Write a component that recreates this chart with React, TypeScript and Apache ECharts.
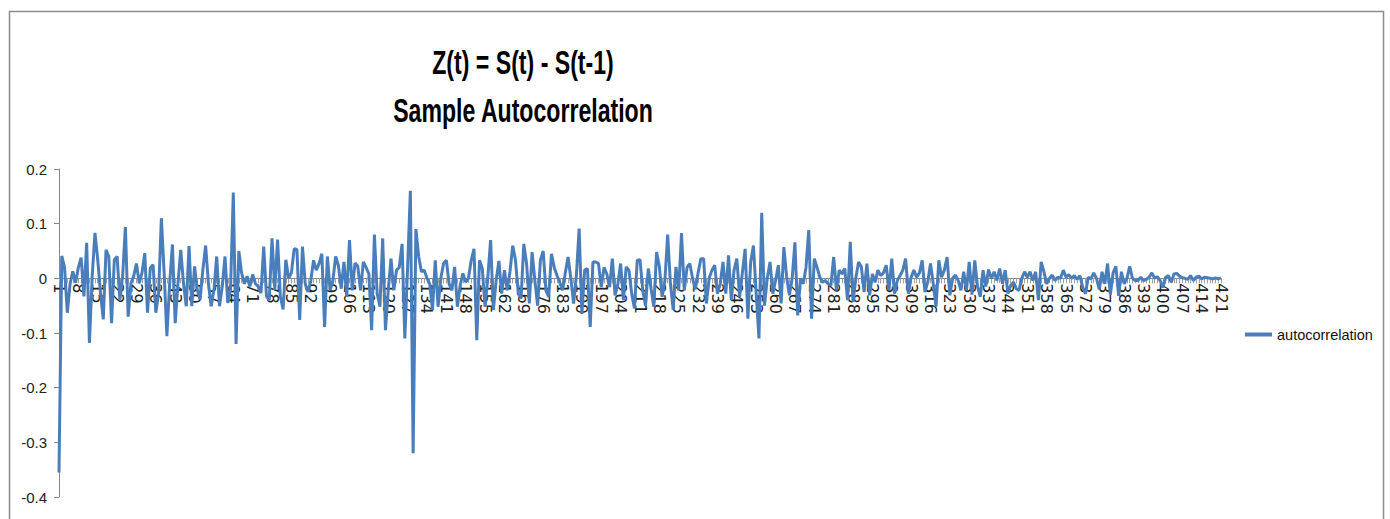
import { useEffect, useRef } from "react";
import * as echarts from "echarts";

// Sample autocorrelation of the differenced series, by lag (1..421)
const acfLag001to064 = [
  -0.355, 0.041, 0.02, -0.063, -0.01, 0.013, -0.008, 0.02, 0.038, -0.033,
  0.065, -0.118, 0.004, 0.083, 0.034, -0.027, -0.075, 0.052, 0.04, -0.082,
  0.034, 0.04, -0.039, 0.004, 0.094, -0.07, -0.009, 0.004, 0.027, -0.009,
  0.01, 0.046, -0.063, 0.019, 0.025, -0.063, -0.027, 0.11, 0.01, -0.106,
  -0.009, 0.062, -0.082, -0.009, 0.052, -0.009, -0.051, 0.059, -0.051, 0.022,
  -0.021, -0.039, 0.016, 0.06, -0.009, -0.051, -0.021, 0.04, -0.051, -0.015,
  0.04, -0.045, -0.021, 0.157,
];
const acfLag065to083 = [
  -0.12, 0.05, 0.01, -0.01, 0.004, -0.015, 0.007, -0.01, -0.015, -0.027,
  0.058, -0.033, -0.04, 0.073, -0.021, 0.071, -0.033, -0.057, 0.034,
];
const acfLag084to131 = [
  0.0, 0.01, 0.054, 0.053, -0.076, 0.058, -0.01, -0.025, -0.005, 0.033,
  0.015, 0.027, 0.045, -0.089, 0.04, -0.022, -0.004, 0.04, 0.023, -0.019,
  0.03, -0.034, 0.07, -0.022, 0.028, 0.022, -0.022, 0.03, 0.02, 0.008,
  -0.095, 0.08, -0.028, -0.052, 0.073, -0.095, -0.022, 0.036, -0.022, 0.015,
  0.02, 0.063, -0.11, 0.02, 0.16, -0.32, 0.09, 0.04,
];
const acfLag132to180 = [
  0.012, 0.015, 0.0, -0.01, -0.058, 0.033, -0.052, 0.0, 0.027, 0.033,
  -0.01, -0.022, 0.021, -0.052, -0.013, 0.009, -0.007, 0.0, 0.033, 0.054,
  -0.113, 0.033, 0.018, -0.052, 0.002, 0.07, -0.058, -0.004, 0.032, -0.028,
  0.015, -0.022, 0.012, 0.06, 0.033, -0.028, -0.037, 0.063, 0.027, -0.046,
  0.048, -0.004, -0.05, 0.033, 0.05, -0.022, -0.034, 0.045, 0.02,
];
const acfLag181to229 = [
  0.005, -0.007, -0.022, 0.01, 0.039, 0.0, -0.046, 0.005, 0.091, -0.065,
  0.015, 0.018, -0.089, 0.03, 0.03, 0.027, -0.016, 0.02, 0.008, -0.016,
  0.036, -0.031, -0.01, 0.027, -0.04, 0.021, 0.015, -0.028, -0.055, 0.033,
  0.034, -0.022, -0.05, 0.018, -0.019, -0.052, 0.048, 0.021, -0.034, -0.004,
  0.08, -0.01, -0.058, 0.021, -0.022, 0.083, -0.022, 0.02, 0.027,
];
const acfLag230to277 = [
  0.0, -0.02, 0.01, 0.036, 0.036, -0.046, 0.0, 0.015, 0.024, -0.028,
  -0.01, 0.03, -0.028, 0.042, -0.04, 0.015, 0.036, -0.034, 0.01, 0.054,
  -0.074, 0.03, 0.06, -0.028, -0.11, 0.12, -0.05, 0.0, 0.03, -0.028,
  -0.004, 0.024, -0.046, 0.057, 0.003, -0.031, 0.0, 0.066, -0.068, 0.0,
  -0.01, 0.02, 0.088, -0.074, 0.036, 0.02, 0.002, -0.007,
];
const acfLag278to326 = [
  -0.004, -0.01, -0.013, 0.039, -0.022, 0.015, 0.008, 0.018, -0.04, 0.067,
  -0.043, 0.0, 0.03, 0.021, -0.025, 0.027, -0.031, 0.008, -0.007, 0.015,
  0.005, 0.01, 0.024, -0.022, 0.036, -0.028, -0.004, 0.005, 0.015, 0.036,
  -0.028, 0.002, 0.015, 0.002, 0.01, 0.033, -0.025, -0.007, 0.027, -0.01,
  -0.052, 0.033, 0.002, 0.015, 0.039, -0.031, 0.0, 0.006, -0.004,
];
const acfLag327to374 = [
  -0.022, 0.012, -0.022, 0.03, -0.03, 0.033, -0.015, -0.034, 0.015, -0.015,
  0.016, 0.0, 0.012, -0.004, 0.018, -0.01, 0.015, -0.028, -0.013, -0.007,
  -0.019, -0.022, 0.0, 0.012, 0.002, 0.012, -0.004, 0.012, -0.04, 0.03,
  0.012, -0.01, 0.0, 0.006, -0.004, 0.002, 0.0, 0.015, 0.002, 0.007,
  0.0, 0.005, -0.002, 0.005, -0.016, -0.028, 0.002, -0.001,
];
const acfLag375to421 = [
  0.01, 0.0, -0.02, 0.012, -0.01, 0.027, -0.03, 0.01, 0.022, -0.032,
  0.012, -0.01, 0.0, 0.022, 0.0, -0.004, -0.004, 0.002, -0.004, -0.002,
  0.002, 0.01, 0.0, 0.003, -0.004, -0.017, 0.002, 0.005, -0.007, 0.008,
  0.009, 0.004, 0.001, 0.0, -0.002, 0.005, -0.004, 0.002, 0.004, -0.001,
  0.002, 0.001, 0.0, -0.001, 0.001, -0.001, 0.001,
];

const autocorrelation = [
  ...acfLag001to064,
  ...acfLag065to083,
  ...acfLag084to131,
  ...acfLag132to180,
  ...acfLag181to229,
  ...acfLag230to277,
  ...acfLag278to326,
  ...acfLag327to374,
  ...acfLag375to421,
];

// Category labels are the lag numbers 1..N
const lags = autocorrelation.map((_, i) => String(i + 1));

const yMin = -0.4;
const yMax = 0.2;
const yStep = 0.1;

const titleLines = ["Z(t) = S(t) - S(t-1)", "Sample Autocorrelation"];
const seriesName = "autocorrelation";

const SANS = "'Liberation Sans', Arial, sans-serif";
const LINE_BLUE = "#4a7ebb";
const AXIS_GREY = "#868686";

// Plot area in pixels
const GRID = { left: 59, right: 169, top: 169, bottom: 22 };
const CHART_H = 519;

export default function App() {
  const ref = useRef<HTMLDivElement>(null);

  useEffect(() => {
    if (!ref.current) return;
    const chart = echarts.init(ref.current, null, { renderer: "svg" });

    // Category axis sits on the value-axis zero line, labels included
    const plotH = CHART_H - GRID.top - GRID.bottom;
    const zeroFromBottom = (plotH * (0 - yMin)) / (yMax - yMin);

    const titleText = (text: string, y: number) => ({
      type: "text",
      x: 523,
      y,
      scaleX: 0.7,
      style: {
        text,
        fontFamily: SANS,
        fontWeight: "bold",
        fontSize: 33,
        fill: "#000",
        align: "center",
        verticalAlign: "middle",
      },
    });

    chart.setOption({
      animation: false,
      backgroundColor: "#ffffff",
      graphic: [
        {
          type: "rect",
          silent: true,
          z: -10,
          shape: { x: 9.5, y: 11.5, width: 1374, height: 530 },
          style: { fill: "none", stroke: "#8c8c8c", lineWidth: 1.5 },
        },
        titleText(titleLines[0], 62),
        titleText(titleLines[1], 110),
      ],
      grid: { ...GRID, containLabel: false, outerBoundsMode: "none" },
      legend: {
        data: [seriesName],
        left: 1245,
        top: 327,
        padding: 0,
        icon: "rect",
        itemWidth: 27,
        itemHeight: 4,
        textStyle: { fontFamily: SANS, fontSize: 14.5, color: "#111" },
      },
      xAxis: {
        type: "category",
        data: lags,
        boundaryGap: false,
        position: "bottom",
        offset: -zeroFromBottom,
        axisLine: { onZero: false, lineStyle: { color: AXIS_GREY, width: 1 } },
        axisTick: {
          show: true,
          interval: 0,
          length: 5,
          lineStyle: { color: "#a0a0a0", width: 1 },
        },
        axisLabel: {
          interval: 6,
          rotate: -90,
          margin: 5,
          fontFamily: "'DejaVu Sans', sans-serif",
          fontSize: 16,
          color: "#222",
        },
        splitLine: { show: false },
      },
      yAxis: {
        type: "value",
        min: yMin,
        max: yMax,
        interval: yStep,
        axisLine: { show: true, lineStyle: { color: AXIS_GREY, width: 1 } },
        axisTick: { show: true, length: 5, lineStyle: { color: AXIS_GREY } },
        axisLabel: {
          margin: 12,
          fontFamily: SANS,
          fontSize: 15,
          color: "#222",
        },
        splitLine: { show: false },
      },
      series: [
        {
          name: seriesName,
          type: "line",
          data: autocorrelation,
          symbol: "none",
          showSymbol: false,
          lineStyle: { color: LINE_BLUE, width: 3 },
          itemStyle: { color: LINE_BLUE },
        },
      ],
    });
    return () => chart.dispose();
  }, []);

  return (
    <div
      ref={ref}
      style={{
        position: "absolute",
        left: 0,
        top: 0,
        width: 1390,
        height: CHART_H,
        background: "#ffffff",
      }}
    />
  );
}
